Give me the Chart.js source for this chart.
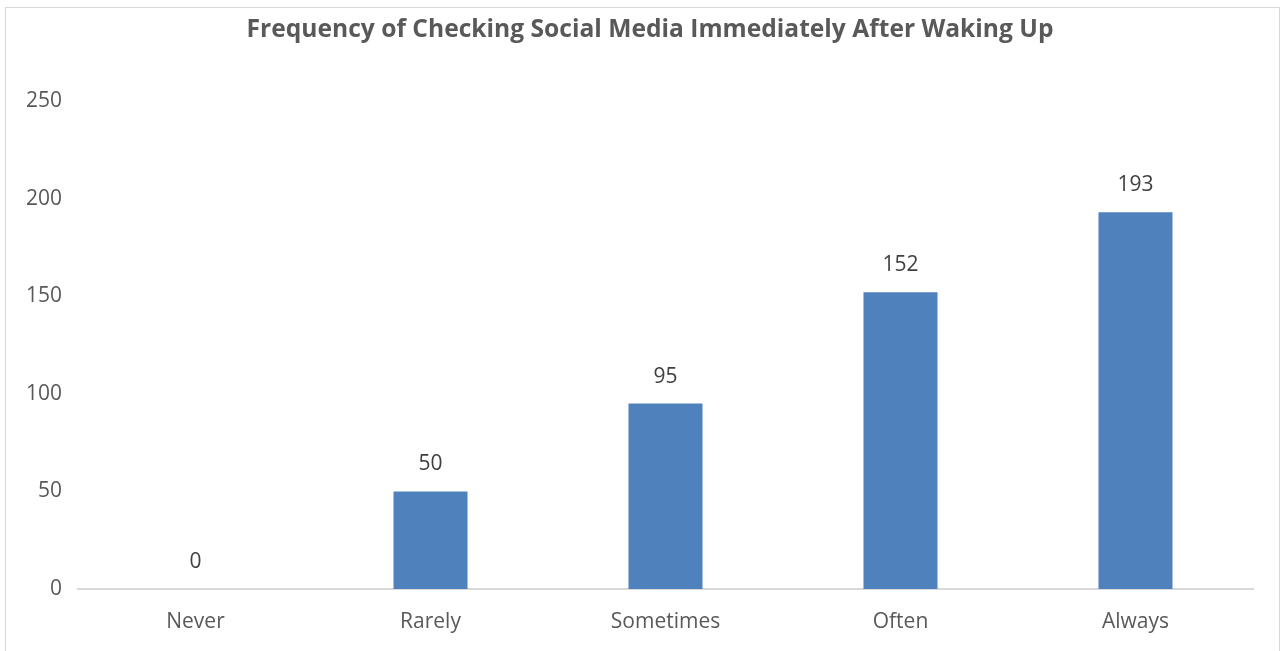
<!DOCTYPE html>
<html>
<head>
<meta charset="utf-8">
<script src="https://cdn.jsdelivr.net/npm/chart.js@4"></script>
<style>
  html, body { margin: 0; padding: 0; background: #fff; }
  #wrap { position: absolute; left: 0; top: 0; width: 1285px; height: 651px; }
  #frame { position: absolute; left: 5px; top: 7px; width: 1275px; height: 660px; border: 1px solid #d9d9d9; box-sizing: border-box; pointer-events: none; }
</style>
</head>
<body>
<div id="wrap"><canvas id="c" width="1285" height="651"></canvas></div>
<div id="frame"></div>
<script>
const categories = ["Never", "Rarely", "Sometimes", "Often", "Always"];
const counts = [0, 50, 95, 152, 193];
const chartTitle = "Frequency of Checking Social Media Immediately After Waking Up";

const FONT = "'Open Sans', 'Liberation Sans', sans-serif";

const valueLabels = {
  id: 'valueLabels',
  afterDatasetsDraw(chart) {
    const ctx = chart.ctx;
    const meta = chart.getDatasetMeta(0);
    ctx.save();
    ctx.font = "21px " + FONT;
    ctx.fillStyle = "#404040";
    ctx.textAlign = "center";
    ctx.textBaseline = "middle";
    meta.data.forEach((bar, i) => {
      ctx.fillText(String(counts[i]), bar.x, bar.y - 27);
    });
    ctx.restore();
  }
};

const titleDraw = {
  id: 'titleDraw',
  afterDraw(chart) {
    const ctx = chart.ctx;
    ctx.save();
    ctx.font = "bold 24.6px " + FONT;
    ctx.fillStyle = "#595959";
    ctx.textAlign = "center";
    ctx.textBaseline = "middle";
    ctx.fillText(chartTitle, 650, 30);
    ctx.restore();
  }
};

new Chart(document.getElementById('c'), {
  type: 'bar',
  data: {
    labels: categories,
    datasets: [{
      data: counts,
      backgroundColor: '#4F81BD',
      barPercentage: 0.315,
      categoryPercentage: 1.0
    }]
  },
  options: {
    responsive: false,
    animation: false,
    devicePixelRatio: 1,
    layout: { padding: { top: 101, right: 32, bottom: 0, left: 0 } },
    plugins: {
      legend: { display: false },
      tooltip: { enabled: false },
      title: { display: false }
    },
    scales: {
      x: {
        grid: { display: false, drawTicks: false },
        border: { display: true, color: '#d9d9d9', width: 2 },
        ticks: { color: '#595959', font: { family: FONT, size: 21 }, padding: 20 },
        afterFit(scale) { scale.height = 62; }
      },
      y: {
        min: 0, max: 250,
        grid: { display: false, drawTicks: false },
        border: { display: false },
        ticks: { stepSize: 50, color: '#595959', font: { family: FONT, size: 21 }, padding: 16 },
        afterFit(scale) { scale.width = 78; }
      }
    }
  },
  plugins: [valueLabels, titleDraw]
});
</script>
</body>
</html>
